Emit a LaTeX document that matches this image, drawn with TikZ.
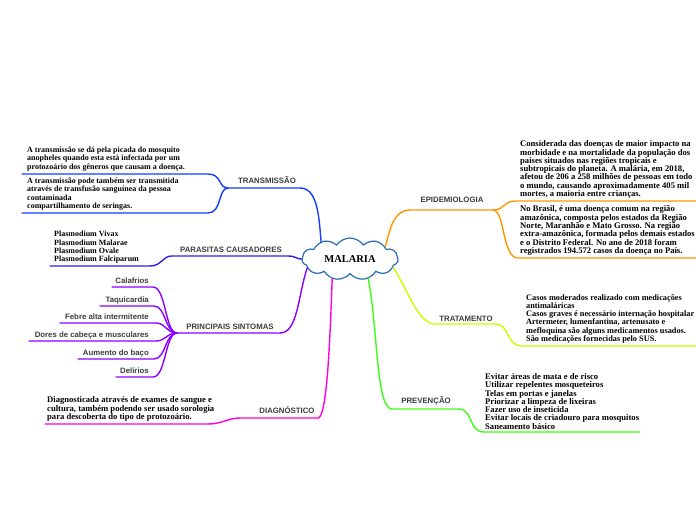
\documentclass[tikz,border=0pt]{standalone}
\usepackage{fontspec}
\setmainfont{Liberation Serif}
\newfontfamily\labelfont{Liberation Sans}
\usepackage{xcolor}
\usetikzlibrary{shapes.symbols}

\definecolor{transblue}{RGB}{20,60,255}
\definecolor{parasblue}{RGB}{55,25,235}
\definecolor{sintpurple}{RGB}{140,0,255}
\definecolor{diagpink}{RGB}{255,0,220}
\definecolor{epidorange}{RGB}{255,150,0}
\definecolor{tratgreen}{RGB}{200,255,0}
\definecolor{prevgreen}{RGB}{60,255,20}
\definecolor{cloudblue}{RGB}{40,110,180}
\definecolor{labelgray}{RGB}{60,60,60}

\tikzset{
  branch/.style={line width=1.4pt, line cap=round},
  topic/.style={font=\labelfont\bfseries\fontsize{7.8}{9}\selectfont, text=labelgray, inner sep=0pt, anchor=base},
  leaf/.style={topic, anchor=base east},
  note/.style={font=\bfseries\fontsize{8}{8.3}\selectfont, align=left, inner sep=0pt, anchor=south west},
  widenote/.style={note, font=\bfseries\fontsize{8.6}{8.3}\selectfont},
}

\begin{document}
\begin{tikzpicture}[x=1pt, y=-1pt]
			\useasboundingbox (0,0) rectangle (696,520);
			% Central idea:
			\node[cloud, cloud puffs=11, cloud puff arc=110, cloud ignores aspect, draw=cloudblue, fill=white, line width=1.2pt,
				minimum width=96pt, minimum height=42pt, inner sep=0pt,
				font=\bfseries\fontsize{10.5}{12}\selectfont](malaria) at (350,259){MALARIA};
			% Free ends of the branches:
			\coordinate (transHub) at (228,188);
			\coordinate (transEndA) at (22,174);
			\coordinate (transEndB) at (22,213);
			\coordinate (parasEnd) at (50,266);
			\coordinate (sintHub) at (177,333);
			\coordinate (calafriosEnd) at (112,287);
			\coordinate (taquiEnd) at (100,306);
			\coordinate (febreEnd) at (60,323);
			\coordinate (doresEnd) at (29,341);
			\coordinate (bacoEnd) at (78,359);
			\coordinate (delirioEnd) at (116,377);
			\coordinate (diagEnd) at (45,424);
			\coordinate (epidHub) at (493,210);
			\coordinate (epidEndA) at (696,201);
			\coordinate (epidEndB) at (696,258);
			\coordinate (tratEnd) at (696,346);
			\coordinate (prevEnd) at (640,432);
			% Transmissao:
			\draw[branch, transblue] (malaria.149) .. controls (319,218) and (318,188) .. (300,188) -- (transHub);
			\draw[branch, transblue] (transHub) .. controls (218,188) and (222,174) .. (208,174) -- (transEndA);
			\draw[branch, transblue] (transHub) .. controls (218,188) and (222,213) .. (208,213) -- (transEndB);
			\node[topic](transLabel) at (267,183){TRANSMISSÃO};
			\node[note](transNoteA) at (27,171){A transmissão se dá pela picada do mosquito\\anopheles quando esta está infectada por um\\protozoário dos gêneros que causam a doença.};
			\node[note](transNoteB) at (27,210.5){A transmissão pode também ser transmitida\\através de transfusão sanguínea da pessoa\\contaminada\\compartilhamento de seringas.};
			% Parasitas:
			\draw[branch, parasblue] (malaria.180) .. controls (296,259) and (296,256) .. (288,256) -- (172,256) .. controls (162,256) and (162,266) .. (150,266) -- (parasEnd);
			\node[topic](parasLabel) at (231,252){PARASITAS CAUSADORES};
			\node[note](parasNote) at (54,263.5){Plasmodium Vivax\\Plasmodium Malarae\\Plasmodium Ovale\\Plasmodium Falciparum};
			% Sintomas:
			\draw[branch, sintpurple] (malaria.192) .. controls (298,295) and (298,333) .. (280,333) -- (sintHub);
			\draw[branch, sintpurple] (sintHub) .. controls (165,333) and (166,287) .. (153,287) -- (calafriosEnd);
			\draw[branch, sintpurple] (sintHub) .. controls (165,333) and (166,306) .. (154,306) -- (taquiEnd);
			\draw[branch, sintpurple] (sintHub) .. controls (166,333) and (166,323) .. (156,323) -- (febreEnd);
			\draw[branch, sintpurple] (sintHub) .. controls (166,333) and (166,341) .. (156,341) -- (doresEnd);
			\draw[branch, sintpurple] (sintHub) .. controls (165,333) and (166,359) .. (154,359) -- (bacoEnd);
			\draw[branch, sintpurple] (sintHub) .. controls (165,333) and (166,377) .. (153,377) -- (delirioEnd);
			\node[topic](sintLabel) at (230,329.5){PRINCIPAIS SINTOMAS};
			\node[leaf](calafrios) at (149,283.5){Calafrios};
			\node[leaf](taqui) at (149,302.5){Taquicardia};
			\node[leaf](febre) at (149,319.5){Febre alta intermitente};
			\node[leaf](dores) at (149,337.5){Dores de cabeça e musculares};
			\node[leaf](baco) at (149,355.5){Aumento do baço};
			\node[leaf](delirio) at (149,373.5){Delírios};
			% Diagnostico:
			\draw[branch, diagpink] (malaria.228) .. controls (330,340) and (327,418) .. (318,418) -- (240,418) .. controls (228,418) and (222,424) .. (208,424) -- (diagEnd);
			\node[topic](diagLabel) at (287,413){DIAGNÓSTICO};
			\node[widenote](diagNote) at (47,421.5){Diagnosticada através de exames de sangue e\\cultura, também podendo ser usado sorologia\\para descoberta do tipo de protozoário.};
			% Epidemiologia:
			\draw[branch, epidorange] (malaria.19) .. controls (390,230) and (393,210) .. (410,210) -- (epidHub);
			\draw[branch, epidorange] (epidHub) .. controls (505,210) and (503,201) .. (516,201) -- (epidEndA);
			\draw[branch, epidorange] (epidHub) .. controls (505,210) and (502,258) .. (518,258) -- (epidEndB);
			\node[topic](epidLabel) at (452,202){EPIDEMIOLOGIA};
			\node[widenote](epidNoteA) at (520,198.5){Considerada das doenças de maior impacto na\\morbidade e na mortalidade da população dos\\paises situados nas regiões tropicais e\\subtropicais do planeta. A malária, em 2018,\\afetou de 206 a 258 milhões de pessoas em todo\\o mundo, causando aproximadamente 405 mil\\mortes, a maioria entre crianças.};
			\node[widenote](epidNoteB) at (520,255.5){No Brasil, é uma doença comum na região\\amazônica, composta pelos estados da Região\\Norte, Maranhão e Mato Grosso. Na região\\extra-amazônica, formada pelos demais estados\\e o Distrito Federal. No ano de 2018 foram\\registrados 194.572 casos da doença no País.};
			% Tratamento:
			\draw[branch, tratgreen] (malaria.349) .. controls (408,290) and (418,324) .. (435,324) -- (495,324) .. controls (510,324) and (506,346) .. (522,346) -- (tratEnd);
			\node[topic](tratLabel) at (466,321){TRATAMENTO};
			\node[note, font=\bfseries\fontsize{8.3}{8.3}\selectfont](tratNote) at (526,343.5){Casos moderados realizado com medicações\\antimaláricas\\Casos graves é necessário internação hospitalar\\Artermeter, lumenfantina, artenusato e\\mefloquina são alguns medicamentos usados.\\São medicações fornecidas pelo SUS.};
			% Prevencao:
			\draw[branch, prevgreen] (malaria.313) .. controls (378,330) and (376,409) .. (392,409) -- (458,409) .. controls (474,409) and (468,432) .. (484,432) -- (prevEnd);
			\node[topic](prevLabel) at (426,403){PREVENÇÃO};
			\node[widenote](prevNote) at (485,429.5){Evitar áreas de mata e de risco\\Utilizar repelentes mosqueteiros\\Telas em portas e janelas\\Priorizar a limpeza de lixeiras\\Fazer uso de inseticida\\Evitar locais de criadouro para mosquitos\\Saneamento básico};
		\end{tikzpicture}
\end{document}
